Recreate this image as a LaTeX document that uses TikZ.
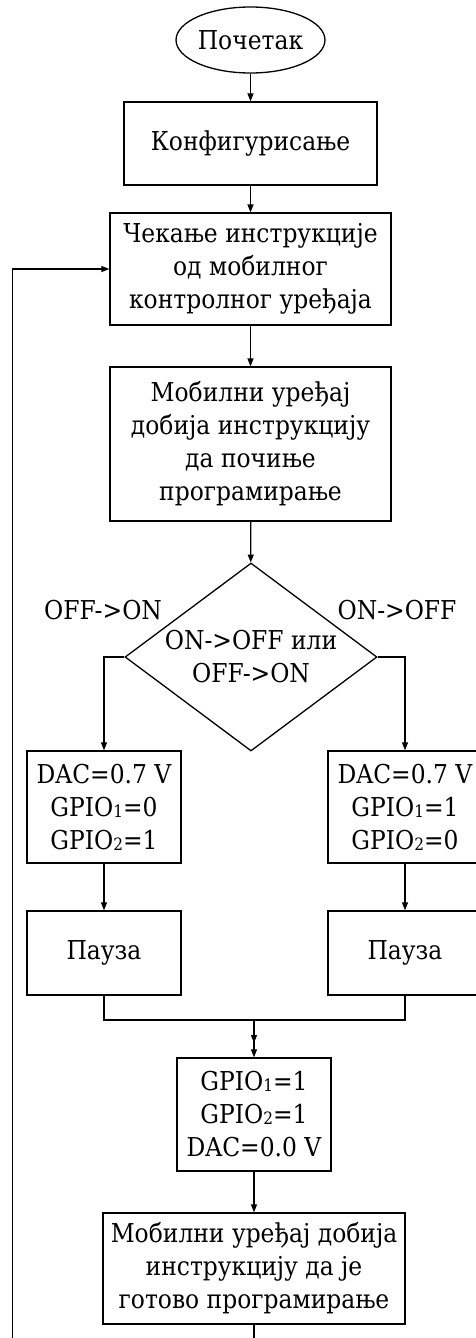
\documentclass[tikz,border=0pt]{standalone}
\usepackage{fontspec}
\setmainfont{DejaVu Serif}[FakeStretch=0.9]
\usetikzlibrary{shapes.geometric,arrows.meta}
% small lowered index digit for the GPIO names
\newcommand{\gidx}[1]{\raisebox{-1pt}{\fontsize{17}{17}\selectfont #1}}
\tikzset{
  every node/.style={font=\fontsize{26}{33}\selectfont},
  flow/.style={line width=1.3pt},
  arr/.style={flow,-{Triangle[length=8pt,width=6pt]}},
  proc/.style={draw,flow,rectangle,inner sep=0pt,align=center},
  term/.style={draw,flow,ellipse,inner sep=0pt,minimum width=141pt,minimum height=66pt},
  decide/.style={draw,flow,diamond,inner sep=0pt,aspect=1.34,align=center,
                 minimum width=252pt,minimum height=188pt},
  lbl/.style={inner sep=0pt}
}
\begin{document}
\begin{tikzpicture}[x=1pt,y=-1pt]
\useasboundingbox (0,0) rectangle (475,1338);

\node[term] (start) at (250.5,40) {Почетак};
\node[proc,minimum width=253pt,minimum height=83pt] (conf) at (250.5,143.5) {Конфигурисање};
\node[proc,minimum width=281pt,minimum height=112pt] (wait) at (250.5,269)
  {Чекање инструкције\\од мобилног\\контролног уређаја};
\node[proc,minimum width=281pt,minimum height=154pt] (mob) at (250.5,444)
  {Мобилни уређај\\добија инструкцију\\да почиње\\програмирање};
\node[decide] (dec) at (251,657) {ON->OFF или\\OFF->ON};

\node[lbl] (lon) at (103,610) {OFF->ON};
\node[lbl] (loff) at (397,610) {ON->OFF};

\node[proc,minimum width=154pt,minimum height=112pt] (dacl) at (104,807)
  {DAC=0.7 V\\GPIO\gidx{1}=0\\GPIO\gidx{2}=1};
\node[proc,minimum width=154pt,minimum height=112pt] (dacr) at (405,807)
  {DAC=0.7 V\\GPIO\gidx{1}=1\\GPIO\gidx{2}=0};
\node[proc,minimum width=154pt,minimum height=84pt] (pl) at (104,953) {Пауза};
\node[proc,minimum width=154pt,minimum height=84pt] (pr) at (405,953) {Пауза};

\node[proc,minimum width=154pt,minimum height=113pt] (gpio) at (254,1114.5)
  {GPIO\gidx{1}=1\\GPIO\gidx{2}=1\\DAC=0.0 V};
\node[proc,minimum width=302pt,minimum height=111pt] (done) at (254,1268.5)
  {Мобилни уређај добија\\инструкцију да је\\готово програмирање};

\coordinate (merge) at (254,1020);
\coordinate (mid) at (254,1043);

% main sequence
\draw[arr] (start) -- (conf);
\draw[arr] (conf) -- (wait);
\draw[arr] (wait) -- (mob);
\draw[arr] (mob) -- (dec);

% the two branches of the decision
\draw[arr] (dec.west) -| (dacl.north);
\draw[arr] (dec.east) -| (dacr.north);
\draw[arr] (dacl) -- (pl);
\draw[arr] (dacr) -- (pr);

% join of the branches
\draw[flow] (pl.south) |- (merge) -| (pr.south);
\draw[arr] (merge) -- (mid);
\draw[arr] (merge) -- (gpio.north);
\draw[arr] (gpio) -- (done);

% return to waiting for the next instruction
\draw[arr] (done.south) -- (254,1360) -| (12.5,1200) |- (wait.west);
\end{tikzpicture}
\end{document}
